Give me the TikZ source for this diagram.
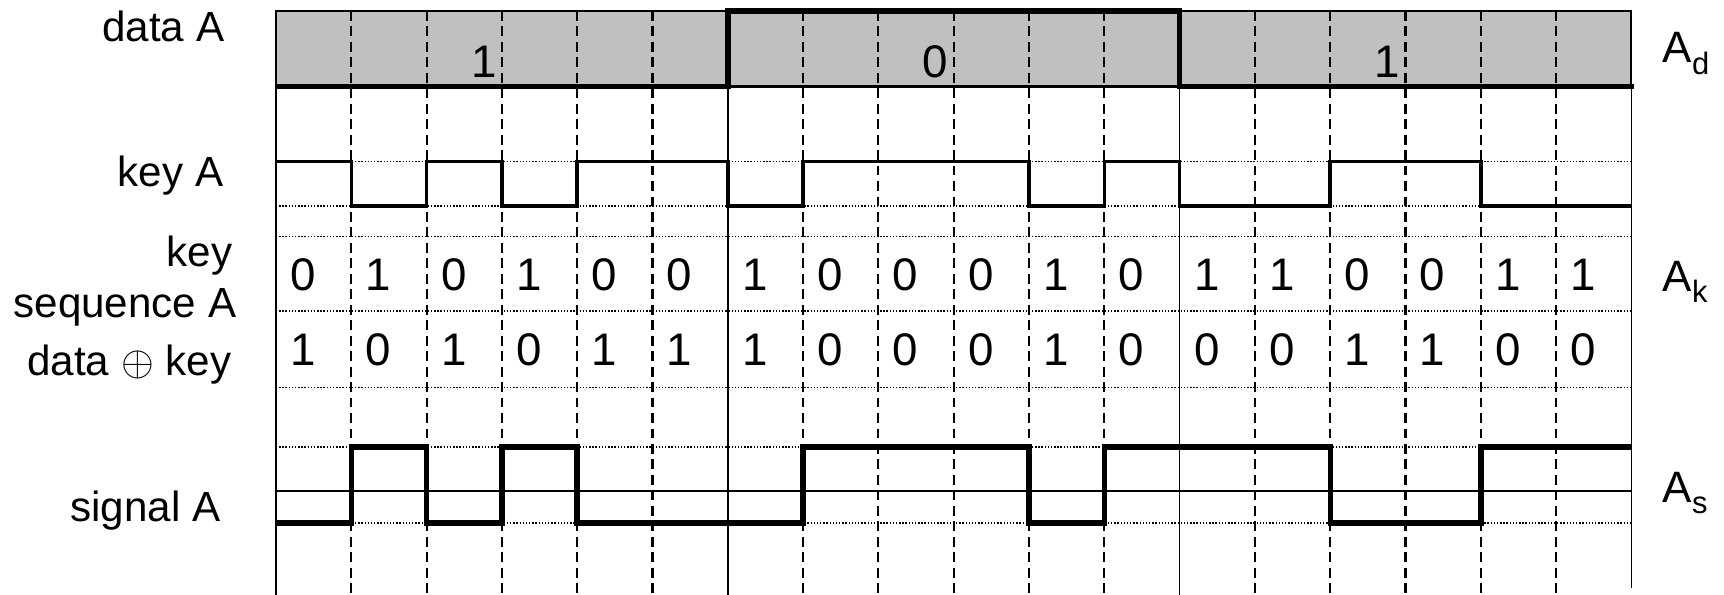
\documentclass[tikz,border=0pt]{standalone}
\usepackage{fontspec}
\setmainfont{Liberation Sans}
\definecolor{datagray}{RGB}{192,192,192}
% vertical levels (cm, measured down from the top edge)
\newcommand{\boxtop}{-0.11}
\newcommand{\boxbot}{-0.865}
\newcommand{\keyhi}{-1.615}
\newcommand{\keylo}{-2.06}
\newcommand{\sighi}{-4.47}
\newcommand{\sigmid}{-4.91}
\newcommand{\siglo}{-5.23}
\newcommand{\botedge}{-5.95}
\tikzset{
  row label/.style={anchor=base east, inner sep=0pt},
  unit label/.style={anchor=base west, inner sep=0pt, font=\fontsize{12.5}{15}\selectfont},
  bit label/.style={anchor=base, inner sep=0pt, font=\fontsize{13}{15}\selectfont},
  box line/.style={line width=0.6pt},
  bound line/.style={line width=0.45pt},
  grid dash/.style={line width=0.6pt, dash pattern=on 2.8pt off 1.6pt},
  level line/.style={line width=0.35pt, dash pattern=on 0.4pt off 0.5pt},
  data wave/.style={line width=1.55pt},
  key wave/.style={line width=1pt},
  signal wave/.style={line width=1.55pt},
}

\begin{document}
\begin{tikzpicture}[font=\fontsize{12}{14.4}\selectfont]
  \useasboundingbox (0,0) rectangle (17.24,\botedge);

  % --- row names on the left ---
  \node[row label] (lbl-data) at (2.25,-0.42) {data A};
  \node[row label] (lbl-key) at (2.24,-1.87) {key A};
  \node[row label] (lbl-seq1) at (2.33,-2.66) {key};
  \node[row label] (lbl-seq2) at (2.37,-3.17) {sequence A};
  \node[row label] (lbl-xor) at (2.32,-3.75) {data $\oplus$ key};
  \node[row label] (lbl-sig) at (2.21,-5.21) {signal A};

  % --- symbols on the right ---
  \node[unit label] (ad) at (16.62,-0.63) {A\raisebox{-0.27em}{\fontsize{8.8}{9}\selectfont d}};
  \node[unit label] (ak) at (16.62,-2.91) {A\raisebox{-0.27em}{\fontsize{8.8}{9}\selectfont k}};
  \node[unit label] (as) at (16.62,-5.02) {A\raisebox{-0.27em}{\fontsize{8.8}{9}\selectfont s}};

  \begin{scope}[xshift=2.76cm, x=0.753cm]
    % data band
    \fill[datagray] (0,\boxtop) rectangle (18,\boxbot);
    \draw[box line] (0,\boxtop) rectangle (18,\boxbot);

    % reference levels
    \foreach \y in {\keyhi,\keylo,-2.365,-3.11,-3.875,\sighi,\siglo}
      \draw[level line] (0,\y) -- (18,\y);
    \draw[bound line] (0,\sigmid) -- (18,\sigmid);

    % bit grid and data bit boundaries
    \foreach \i in {1,2,3,4,5,7,8,9,10,11,13,14,15,16,17}
      \draw[grid dash] (\i,\boxtop) -- (\i,\botedge);
    \draw[bound line] (0,\boxtop) -- (0,\botedge);
    \draw[bound line] (6,\boxbot) -- (6,\botedge);
    \draw[bound line] (12,\boxbot) -- (12,\botedge);
    \draw[bound line] (18,\boxtop) -- (18,-5.88);

    % data bits
    \node[bit label] (d0) at (2.76,-0.78) {1};
    \node[bit label] (d1) at (8.76,-0.78) {0};
    \node[bit label] (d2) at (14.76,-0.78) {1};

    % key sequence and data xor key
    \foreach \b [count=\i from 0] in {0,1,0,1,0,0,1,0,0,0,1,0,1,1,0,0,1,1}
      \node[bit label] (k\i) at (\i+0.36,-2.90) {\b};
    \foreach \b [count=\i from 0] in {1,0,1,0,1,1,1,0,0,0,1,0,0,0,1,1,0,0}
      \node[bit label] (x\i) at (\i+0.36,-3.65) {\b};

    % waveforms
    \draw[data wave] (0,\boxbot) -| (6,\boxtop) -| (12,\boxbot) -- (18.03,\boxbot);
    \draw[key wave] (0,\keyhi) -| (1,\keylo) -| (2,\keyhi) -| (3,\keylo)
      -| (4,\keyhi) -| (6,\keylo) -| (7,\keyhi) -| (10,\keylo) -| (11,\keyhi)
      -| (12,\keylo) -| (14,\keyhi) -| (16,\keylo) -- (18,\keylo);
    \draw[signal wave] (0,\siglo) -| (1,\sighi) -| (2,\siglo) -| (3,\sighi)
      -| (4,\siglo) -| (7,\sighi) -| (10,\siglo) -| (11,\sighi) -| (14,\siglo)
      -| (16,\sighi) -- (18,\sighi);
  \end{scope}
\end{tikzpicture}
\end{document}
